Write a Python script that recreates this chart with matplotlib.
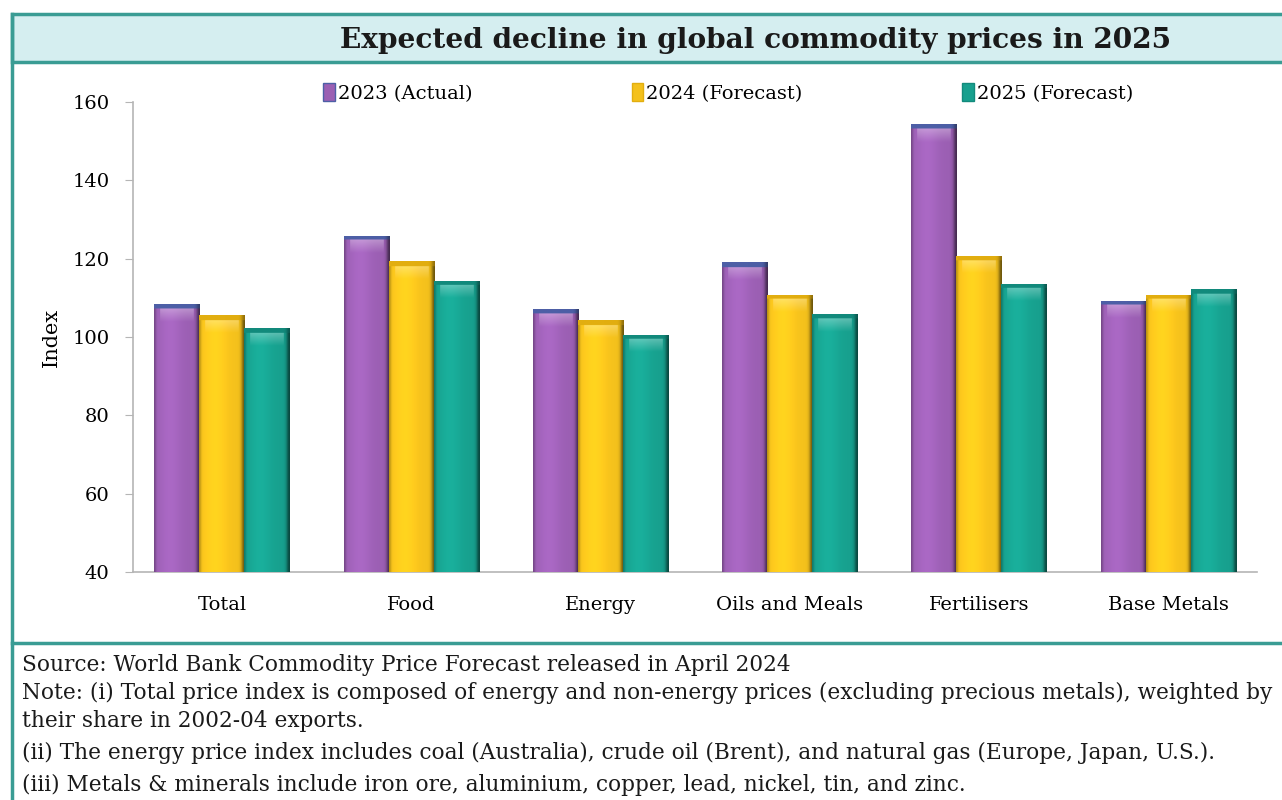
"""
Commodity price index chart: 2023 actual vs 2024/2025 World Bank forecasts.
"""

import numpy as np
import matplotlib
matplotlib.use("Agg")
import matplotlib.pyplot as plt
from matplotlib.patches import Rectangle, Patch
from matplotlib.colors import to_rgb

# ── data ──────────────────────────────────────────────────────────
categories = ["Total", "Food", "Energy", "Oils and Meals", "Fertilisers", "Base Metals"]
series_names = ["2023 (Actual)", "2024 (Forecast)", "2025 (Forecast)"]
vals_2023 = [108.3, 125.8, 107.1, 119.1, 154.3, 109.2]
vals_2024 = [105.6, 119.3, 104.3, 110.8, 120.8, 110.8]
vals_2025 = [102.2, 114.3, 100.6, 105.8, 113.6, 112.2]
yticks = [40, 60, 80, 100, 120, 140, 160]

title = "Expected decline in global commodity prices in 2025"
notes = [
    "Source: World Bank Commodity Price Forecast released in April 2024",
    "Note: (i) Total price index is composed of energy and non-energy prices (excluding precious metals), weighted by",
    "their share in 2002-04 exports.",
    "(ii) The energy price index includes coal (Australia), crude oil (Brent), and natural gas (Europe, Japan, U.S.).",
    "(iii) Metals & minerals include iron ore, aluminium, copper, lead, nickel, tin, and zinc.",
]

# ── styling ───────────────────────────────────────────────────────
W, H = 1282, 800
TEAL = "#3a9c94"
BAND = "#d5eef0"
bar_colors = ["#9b5fb3", "#f4c11c", "#17a08e"]
cap_colors = ["#4d5fa6", "#e2ae10", "#128a7c"]
plt.rcParams["font.family"] = ["DejaVu Serif"]


def px(x, y):
    """pixel position (from top-left) -> figure fraction"""
    return x / W, 1 - y / H


def shade_image(color, cap_color, height_units, cap_units=1.1, nx=60, ny=300):
    """Horizontal bevel shading plus a thin top rim, as an RGB array."""
    base = np.array(to_rgb(color))
    cap = np.array(to_rgb(cap_color))
    u = np.linspace(0, 1, nx)
    # darker left rim, soft highlight, strong dark right rim
    f = 1.0 + 0.10 * np.exp(-((u - 0.35) / 0.25) ** 2)
    f -= 0.25 * np.exp(-(u / 0.04) ** 2)
    f -= 0.55 * np.exp(-((1 - u) / 0.07) ** 2)
    img = np.clip(base[None, None, :] * f[None, :, None] * np.ones((ny, 1, 1)), 0, 1)
    # top rim (rows from top)
    v = np.linspace(0, height_units, ny)
    top = v < cap_units
    capf = 1.0 - 0.35 * np.exp(-((1 - u) / 0.07) ** 2)
    img[top] = np.clip(cap[None, :] * capf[:, None], 0, 1)
    # pale bevel sheen just under the rim
    sheen = (v >= cap_units) & (v < cap_units * 4.0)
    mid = (u > 0.12) & (u < 0.88)
    for r in np.where(sheen)[0]:
        w = 1 - (v[r] - cap_units) / (cap_units * 3.0)
        img[r, mid] = img[r, mid] * (1 - 0.3 * w) + 0.3 * w
    return img


fig = plt.figure(figsize=(W / 100, H / 100), dpi=100)

# ── frame: title band, border, separator ─────────────────────────
x0, y0 = px(12, 62)
x1, y1 = px(1290, 14)
fig.patches.append(Rectangle((x0, y0), x1 - x0, y1 - y0, transform=fig.transFigure,
                             facecolor=BAND, edgecolor=TEAL, linewidth=2.5, zorder=0))
fig.add_artist(plt.Line2D([12 / W, 12 / W], [0, 1 - 14 / H], color=TEAL, lw=2.5,
                          transform=fig.transFigure))
fig.add_artist(plt.Line2D([12 / W, 1], [1 - 643 / H] * 2, color=TEAL, lw=2.5,
                          transform=fig.transFigure))
fig.text(*px(756, 40), title, ha="center", va="center", fontsize=20.2,
         fontweight="bold", color="#1a1a1a")

# ── bars ──────────────────────────────────────────────────────────
ax = fig.add_axes([133 / W, 1 - 572 / H, (1257 - 133) / W, (572 - 102) / H])
ax.set_ylim(40, 160)
ax.set_xlim(-0.47, len(categories) - 0.53)

x = np.arange(len(categories))
width = 0.238
all_vals = [vals_2023, vals_2024, vals_2025]
for i, (vals, col, cap) in enumerate(zip(all_vals, bar_colors, cap_colors)):
    bars = ax.bar(x + (i - 1) * width, np.array(vals) - 40, width, bottom=40,
                  color=col, edgecolor="none", zorder=2)
    for b in bars:
        bx, by = b.get_x(), b.get_y()
        bw, bh = b.get_width(), b.get_height()
        im = ax.imshow(shade_image(col, cap, bh), extent=[bx, bx + bw, by, by + bh],
                       aspect="auto", interpolation="bilinear", zorder=3)
        im.set_clip_path(b)

ax.set_xticks(x)
ax.set_xticklabels(categories, fontsize=14)
ax.set_yticks(yticks)
ax.tick_params(axis="x", length=0, pad=17)
ax.tick_params(axis="y", length=6, color="#b5b5b5", labelsize=14, pad=11)
for s in ["top", "right"]:
    ax.spines[s].set_visible(False)
for s in ["left", "bottom"]:
    ax.spines[s].set_color("#b5b5b5")
    ax.spines[s].set_linewidth(1.2)
ax.set_ylabel("Index", fontsize=15, labelpad=8)
ax.set_facecolor("none")

# ── legend ────────────────────────────────────────────────────────
handles = [Patch(facecolor=c, edgecolor=e, linewidth=1) for c, e in zip(bar_colors, cap_colors)]
fig.legend(handles, series_names, loc="center", bbox_to_anchor=px(728, 93), ncol=3,
           frameon=False, fontsize=14, handlelength=0.6, handleheight=1.0,
           handletextpad=0.15, columnspacing=8.2)

# ── notes ─────────────────────────────────────────────────────────
for line, ly in zip(notes, [665, 693, 721, 753, 785]):
    fig.text(*px(22, ly), line, ha="left", va="center", fontsize=15.6, color="#1a1a1a")

fig.savefig("out.png", dpi=100)
